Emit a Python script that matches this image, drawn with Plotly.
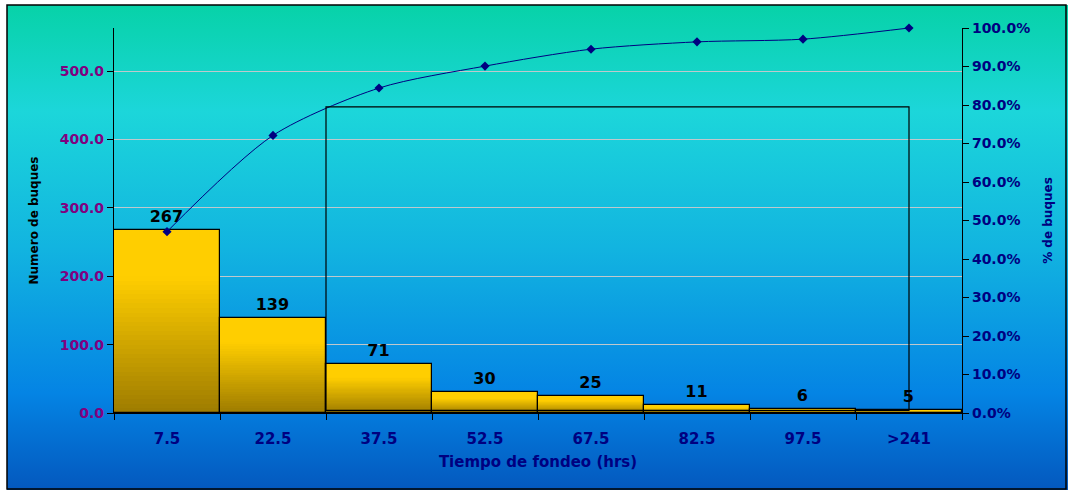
import base64
import plotly.graph_objects as go

categories = ["7.5", "22.5", "37.5", "52.5", "67.5", "82.5", "97.5", ">241"]
ships = [267, 139, 71, 30, 25, 11, 6, 5]
cum_pct = [0.471, 0.721, 0.844, 0.901, 0.945, 0.964, 0.971, 1.0]
left_ticks = [0, 100, 200, 300, 400, 500]
right_ticks = [0.0, 0.1, 0.2, 0.3, 0.4, 0.5, 0.6, 0.7, 0.8, 0.9, 1.0]

W, H = 1068, 490
L, R, T, B = 114, 106, 28, 77
pw, ph = W - L - R, H - T - B
FONT = "DejaVu Sans"

svg = ('<svg xmlns="http://www.w3.org/2000/svg" width="100" height="100" viewBox="0 0 100 100" '
       'preserveAspectRatio="none"><defs><linearGradient id="g" x1="0" y1="0" x2="0" y2="1">'
       '<stop offset="0" stop-color="#07D2A8"/>'
       '<stop offset="0.22" stop-color="#1CD6DA"/>'
       '<stop offset="0.5" stop-color="#12B4E0"/>'
       '<stop offset="0.8" stop-color="#0484E4"/>'
       '<stop offset="1" stop-color="#0458BE"/>'
       '</linearGradient></defs><rect x="0" y="0" width="100" height="100" fill="url(#g)"/></svg>')
src = "data:image/svg+xml;base64," + base64.b64encode(svg.encode()).decode()

fig = go.Figure()

N = 40
bot = (158, 124, 0)
top = (255, 206, 0)
for k in range(N):
    t = (k + 0.5) / N
    tt = min(1.0, t * 1.35)
    c = tuple(int(bot[i] + (top[i] - bot[i]) * tt) for i in range(3))
    fig.add_trace(go.Bar(
        x=categories, y=[v / N for v in ships], base=[v * k / N for v in ships],
        marker=dict(color="rgb(%d,%d,%d)" % c, line=dict(width=0)),
        width=1, showlegend=False, hoverinfo="skip"))

fig.add_trace(go.Bar(
    x=categories, y=ships, width=1,
    marker=dict(color="rgba(0,0,0,0)", line=dict(color="black", width=1.2)),
    text=["<b>%d</b>" % v for v in ships], textposition="outside",
    textfont=dict(family=FONT, size=16, color="black"),
    cliponaxis=False, showlegend=False))

fig.add_trace(go.Scatter(
    x=categories, y=cum_pct, yaxis="y2", mode="lines+markers",
    line=dict(color="#000080", width=1, shape="spline", smoothing=0.8),
    marker=dict(symbol="diamond", size=7, color="#000080"),
    showlegend=False, cliponaxis=False))

fig.add_shape(type="rect", xref="x", yref="y2", x0=1.5, x1=7, y0=0.007, y1=0.795,
              line=dict(color="black", width=1.2), fillcolor="rgba(0,0,0,0)")

# outer border
fig.add_shape(type="rect", xref="paper", yref="paper",
              x0=(7 - L) / pw, x1=(W - 2 - L) / pw,
              y0=-(B - 1) / ph, y1=1 + (T - 5) / ph,
              line=dict(color="black", width=1.5), layer="above")

fig.add_layout_image(dict(
    source=src, xref="paper", yref="paper",
    x=(7 - L) / pw, y=1 + (T - 5) / ph,
    sizex=(W - 7) / pw, sizey=(H - 5) / ph,
    sizing="stretch", xanchor="left", yanchor="top", layer="below"))

fig.update_layout(
    width=W, height=H,
    margin=dict(l=L, r=R, t=T, b=B),
    paper_bgcolor="white", plot_bgcolor="rgba(0,0,0,0)",
    barmode="overlay", bargap=0,
    font=dict(family=FONT),
    xaxis=dict(
        type="category", tickson="boundaries", ticks="outside", ticklen=6,
        tickcolor="black", showline=True, linecolor="black", linewidth=1.2,
        showgrid=False, ticklabelstandoff=12,
        tickvals=categories, ticktext=["<b>%s</b>" % c for c in categories],
        tickfont=dict(size=15, color="#000080", family=FONT),
        title=dict(text="<b>Tiempo de fondeo (hrs)</b>", standoff=9,
                   font=dict(size=15, color="#000080")),
        range=[-0.5, 7.5]),
    yaxis=dict(
        range=[0, 563], tickvals=left_ticks,
        ticktext=["<b>%.1f</b>" % v for v in left_ticks],
        ticks="outside", ticklen=6, tickcolor="black",
        showline=True, linecolor="black", linewidth=1.2,
        showgrid=True, gridcolor="#BFC8CC", gridwidth=1.2, zeroline=False,
        tickfont=dict(size=14, color="#800080"),
        title=dict(text="<b>Numero de buques</b>", standoff=18,
                   font=dict(size=12, color="black"))),
    yaxis2=dict(
        overlaying="y", side="right", range=[0, 1], tickvals=right_ticks,
        ticktext=["<b>%.1f%%</b>" % (v * 100) for v in right_ticks],
        ticks="outside", ticklen=6, tickcolor="black",
        showline=True, linecolor="black", linewidth=1.2,
        showgrid=False, zeroline=False,
        tickfont=dict(size=14, color="#000080"),
        title=dict(text="<b>% de buques</b>", standoff=14,
                   font=dict(size=12, color="#000080"))),
)

fig.write_html("out.html", config={"displayModeBar": False},
               post_script="document.body.style.margin='0';document.body.style.overflow='hidden';")
